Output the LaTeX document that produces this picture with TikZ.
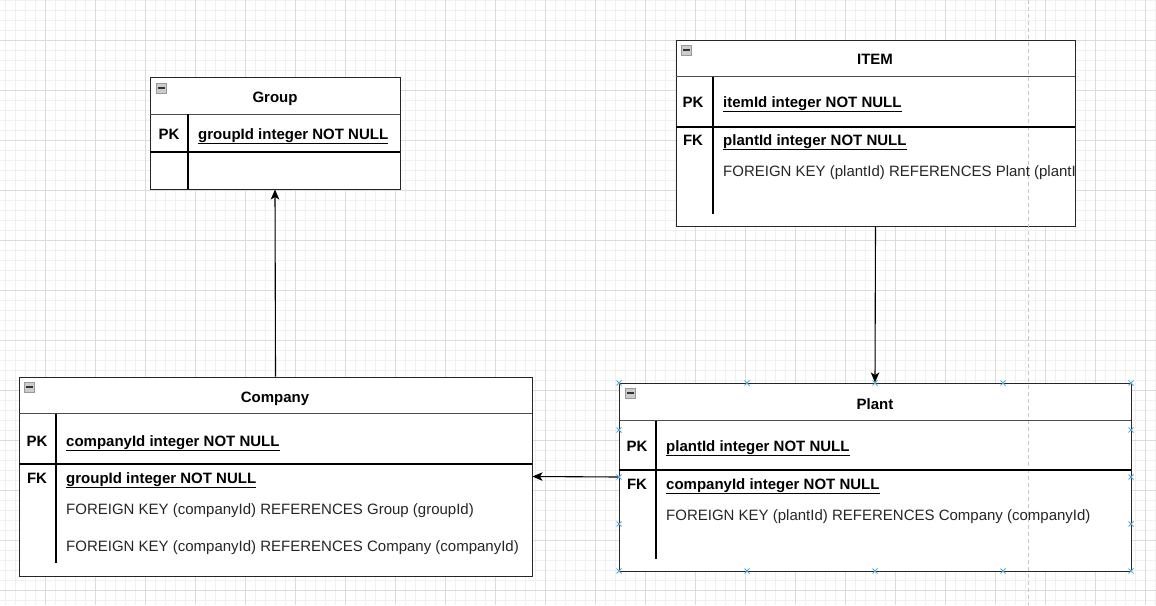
\documentclass[tikz,border=0pt]{standalone}
\usepackage{fontspec}
\setmainfont{Liberation Sans}
\usetikzlibrary{arrows.meta}

\definecolor{gridminor}{HTML}{F0F0F0}
\definecolor{gridmajor}{HTML}{DCDCDC}
\definecolor{guidegray}{HTML}{C8C8C8}
\definecolor{markblue}{HTML}{56A8DC}

\newcommand{\tablefont}{\fontsize{15}{17}\selectfont}
% small collapse icon in the table header
\newcommand{\minusicon}[2]{%
  \draw[draw=gray!80, fill=gray!40, line width=0.6pt] (#1-5,#2-5) rectangle (#1+5,#2+5);
  \draw[black!80, line width=1.2pt] (#1-3.5,#2) -- (#1+3.5,#2);}

\tikzset{
  tablebox/.style={draw=black!85, line width=1pt, fill=white, inner sep=0pt},
  headline/.style={draw=black!70, line width=0.8pt},
  keyline/.style={draw=black, line width=1.3pt},
  colline/.style={draw=black, line width=1.1pt},
  titletext/.style={anchor=base, inner sep=0pt, font=\bfseries\tablefont},
  keytext/.style={anchor=base, inner sep=0pt, font=\bfseries\tablefont},
  fieldtext/.style={anchor=base west, inner sep=0pt, font=\bfseries\tablefont},
  reftext/.style={anchor=base west, inner sep=0pt, font=\tablefont, text=black!85},
  crossmark/.style={draw=markblue, line width=0.9pt},
  link/.style={-{Stealth[length=10pt,width=8.5pt,inset=2.5pt]}, line width=1.1pt}
}

\begin{document}
\begin{tikzpicture}[x=1pt, y=-1pt]
  \useasboundingbox (0,0) rectangle (1156,605);
  \fill[white] (0,0) rectangle (1156,605);

  % background grid
  \foreach \gx in {5,15,...,1155} \draw[gridminor, line width=0.6pt] (\gx,0) -- (\gx,605);
  \foreach \gy in {0,10,...,600} \draw[gridminor, line width=0.6pt] (0,\gy) -- (1156,\gy);
  \foreach \gx in {45,95,...,1145} \draw[gridmajor, line width=0.7pt] (\gx,0) -- (\gx,605);
  \foreach \gy in {40,90,...,590} \draw[gridmajor, line width=0.7pt] (0,\gy) -- (1156,\gy);

  % tables
  \node[tablebox, minimum width=250, minimum height=112] (group) at (275,133) {};
  \node[tablebox, minimum width=399, minimum height=186] (item) at (875.5,133) {};
  \node[tablebox, minimum width=513, minimum height=199] (company) at (275.5,476.5) {};
  \node[tablebox, minimum width=512, minimum height=188] (plant) at (875,477) {};

  % page guide
  \draw[guidegray, line width=1pt, dash pattern=on 4pt off 3pt] (1028,0) -- (1028,605);

  % Group
  \draw[headline] (150,114) -- (400,114);
  \draw[keyline] (150,152) -- (400,152);
  \draw[colline] (188,114) -- (188,189);
  \minusicon{161}{88}
  \node[titletext] (grouptitle) at (275,102) {Group};
  \node[keytext] (grouppk) at (169,139) {PK};
  \node[fieldtext] (groupid) at (198,139) {\underline{groupId integer NOT NULL}};

  % ITEM
  \draw[headline] (676,76.5) -- (1075,76.5);
  \draw[keyline] (676,127) -- (1075,127);
  \draw[colline] (713,76.5) -- (713,213.5);
  \minusicon{686}{50}
  \node[titletext] (itemtitle) at (875,64) {ITEM};
  \node[keytext] (itempk) at (693,107) {PK};
  \node[fieldtext] (itemid) at (723,107) {\underline{itemId integer NOT NULL}};
  \node[keytext] (itemfk) at (693,145) {FK};
  \node[fieldtext] (itemplant) at (723,145) {\underline{plantId integer NOT NULL}};
  \begin{scope}
    \clip (676,40) rectangle (1074.5,226);
    \node[reftext] (itemref) at (723,176) {FOREIGN KEY (plantId) REFERENCES Plant (plantId)};
  \end{scope}

  % Company
  \draw[headline] (19,413.5) -- (532,413.5);
  \draw[keyline] (19,464) -- (532,464);
  \draw[colline] (56,413.5) -- (56,563);
  \minusicon{29}{387}
  \node[titletext] (companytitle) at (275,402) {Company};
  \node[keytext] (companypk) at (37,446) {PK};
  \node[fieldtext] (companyid) at (66,446) {\underline{companyId integer NOT NULL}};
  \node[keytext] (companyfk) at (37,483) {FK};
  \node[fieldtext] (companygroup) at (66,483) {\underline{groupId integer NOT NULL}};
  \node[reftext] (companyrefa) at (66,514) {FOREIGN KEY (companyId) REFERENCES Group (groupId)};
  \node[reftext] (companyrefb) at (66,551) {FOREIGN KEY (companyId) REFERENCES Company (companyId)};

  % Plant
  \draw[headline] (619,420.5) -- (1131,420.5);
  \draw[keyline] (619,470) -- (1131,470);
  \draw[colline] (656,420.5) -- (656,558.5);
  \minusicon{630}{393}
  \node[titletext] (planttitle) at (875,409) {Plant};
  \node[keytext] (plantpk) at (637,451) {PK};
  \node[fieldtext] (plantid) at (666,451) {\underline{plantId integer NOT NULL}};
  \node[keytext] (plantfk) at (637,489) {FK};
  \node[fieldtext] (plantcompany) at (666,489) {\underline{companyId integer NOT NULL}};
  \node[reftext] (plantref) at (666,520) {FOREIGN KEY (plantId) REFERENCES Company (companyId)};

  % relations
  \draw[link] (company.north) -- (group.south);
  \draw[link] (item.south) -- (plant.north);
  \draw[link] (plant.west) -- (company.east);

  % selection handles on Plant
  \foreach \mx/\my in {619/383, 747/383, 875/383, 1003/383, 1131/383,
                       619/571, 747/571, 875/571, 1003/571, 1131/571,
                       619/430, 619/477, 619/524, 1131/430, 1131/477, 1131/524}
    \draw[crossmark] (\mx-2.5,\my-2.5) -- (\mx+2.5,\my+2.5) (\mx-2.5,\my+2.5) -- (\mx+2.5,\my-2.5);
\end{tikzpicture}
\end{document}
